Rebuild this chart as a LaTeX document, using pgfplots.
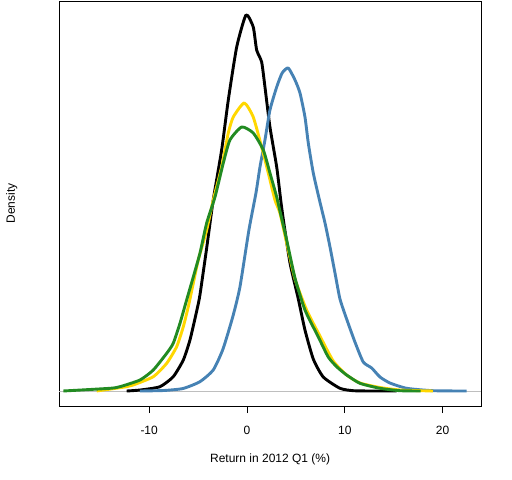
\documentclass[border=0pt]{standalone}
\usepackage{pgfplots}
\pgfplotsset{compat=1.18}
\usepackage{fontspec}
\setmainfont{Liberation Sans}
\definecolor{rblue}{RGB}{70,130,180}
\definecolor{rgold}{RGB}{255,215,0}
\definecolor{rgreen}{RGB}{34,139,34}
\definecolor{rgray}{RGB}{190,190,190}
\begin{document}
\fontsize{12bp}{14bp}\selectfont
\begin{tikzpicture}
\begin{axis}[
  at={(0,0)}, anchor=south west,
  scale only axis, width=421.7bp, height=405bp,
  xmin=-19.19, xmax=23.93, ymin=-15, ymax=390,
  axis line style={line width=0.8bp},
  xtick={-10,0,10,20}, xticklabels={-10,0,10,20},
  ytick=\empty,
  tick align=outside, xtick pos=bottom,
  major tick length=7bp,
  tick style={black, line width=0.8bp},
  xticklabel style={anchor=center, yshift=-17bp, font=\fontsize{12bp}{14bp}\selectfont},
  xlabel={Return in 2012 Q1 (\%)}, ylabel={Density},
  xlabel style={at={(axis description cs:0.5,-0.1310)}, anchor=center, font=\fontsize{12bp}{14bp}\selectfont},
  ylabel style={at={(axis description cs:-0.1129,0.5)}, anchor=center, font=\fontsize{12bp}{14bp}\selectfont},
  every axis plot/.append style={line width=2.9bp, line join=round},
  clip=false,
]
\addplot[rgray, line width=0.8bp] coordinates {(-19.19,0) (23.93,0)};
% black
\addplot[black, smooth, tension=0.35] coordinates {
(-12.30,0) (-10.9,1) (-8.90,4.3) (-7.54,14.3) (-6.51,31) (-5.83,51) (-5.14,80) (-4.81,96)
(-4.12,143) (-3.45,191) (-2.59,241) (-1.91,291) (-1.05,344) (-0.10,376) (0.64,364)
(0.99,341) (1.50,329) (1.84,304) (2.35,264) (3.04,224) (3.45,191) (3.71,172) (4.40,128)
(5.25,92) (5.93,61) (6.78,32) (7.80,14) (9.51,2.7) (10.87,0.3) (13,0) (15.31,0)};
% blue
\addplot[rblue, smooth, tension=0.35] coordinates {
(-10.94,0) (-8.5,0.5) (-6.54,2.5) (-4.81,9.3) (-3.45,21) (-2.45,42) (-1.43,75) (-0.72,104)
(0.20,161) (0.92,198) (1.33,224) (1.84,251) (2.35,281) (3.04,304) (3.6,318) (4.22,323)
(4.91,311) (5.42,298) (5.93,274) (6.27,248) (6.78,218) (7.46,189) (7.98,168) (8.49,144)
(9.00,118) (9.51,92) (10.19,72) (11.04,49) (11.89,29) (12.75,23) (13.60,14) (14.62,8)
(16.33,2.7) (19.02,0.3) (22.46,0)};
% gold
\addplot[rgold, smooth, tension=0.35] coordinates {
(-15.37,0) (-12.30,4.3) (-11.63,6) (-9.58,14.3) (-8.21,27.7) (-7.19,44.3) (-6.51,64.3)
(-6.00,84.3) (-5.49,107.7) (-4.98,131) (-4.12,161) (-3.45,191) (-2.59,224) (-1.91,258)
(-1.40,274) (-0.28,288) (0.64,274) (1.50,244) (2.18,218) (2.86,191) (3.37,178) (4.06,148)
(4.91,112) (6.10,81) (7.46,55) (8.82,30) (10.19,16) (11.55,8) (13.60,3.5) (15.64,1) (19.02,0)};
% green
\addplot[rgreen, smooth, tension=0.35] coordinates {
(-18.78,0) (-14.01,2.7) (-12.99,4.3) (-10.94,11) (-9.58,21) (-8.21,37.7) (-7.54,47.7)
(-6.85,67.7) (-6.17,91) (-5.49,114) (-4.81,137.7) (-4.12,168) (-3.27,194) (-2.42,228)
(-1.74,251) (-0.54,264) (0.64,258) (1.67,241) (2.35,218) (3.04,194) (3.37,180) (4.06,151)
(4.91,113) (5.93,81) (7.30,54) (8.31,34) (9.20,24) (10.19,16) (11.55,7.7) (13.60,2.7)
(15.64,0.3) (17.76,0)};
\end{axis}
\path[use as bounding box] (-59.3bp,-74bp) rectangle (452.7bp,406bp);
\end{tikzpicture}
\end{document}
